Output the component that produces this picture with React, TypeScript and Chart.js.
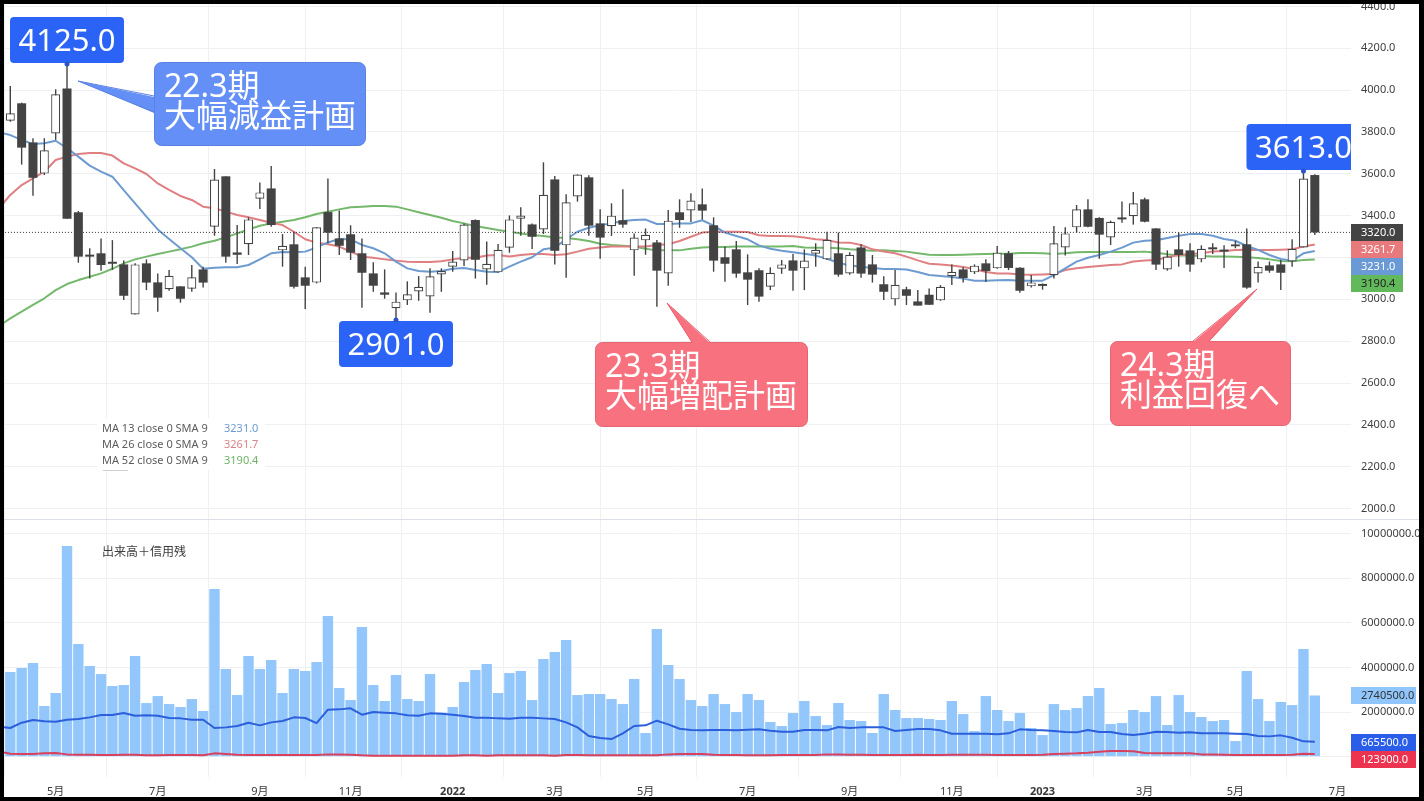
import React, { useEffect, useRef } from "react";
import { Chart, registerables } from "chart.js";

Chart.register(...registerables);

// ---------- data (weekly bars, index 0 = first visible week) ----------
const opens = [
  3854,3937,3750,3601,3793,4008,3416,3212,3220,3178,
  3167,2928,3172,3081,3048,3062,3051,3143,3347,3588,
  3224,3263,3481,3530,3234,3263,3105,3080,3417,3291,
  3311,3220,3124,3033,2957,2995,3038,3014,3119,3156,
  3186,3379,3143,3129,3247,3385,3358,3334,3573,3258,
  3492,3583,3363,3349,3378,3234,3282,3272,3124,3416,
  3425,3454,3354,3201,3239,3129,3139,3060,3146,3186,
  3148,3218,3191,3220,3124,3248,3167,3072,3000,3048,
  2990,3022,2995,3110,3143,3129,3172,3148,3220,3151,
  3062,3073,3115,3248,3344,3430,3389,3296,3387,3397,
  3478,3339,3143,3239,3234,3191,3244,3231,3252,3263,
  3124,3162,3167,3181,3248,3594,
];
const highs = [
  4020,3940,3770,3770,4004,4125,3422,3244,3291,3283,
  3185,3172,3191,3124,3140,3063,3164,3156,3623,3588,
  3355,3392,3559,3637,3312,3323,3156,3345,3578,3424,
  3354,3291,3177,3143,3033,3086,3111,3148,3148,3231,
  3363,3382,3276,3264,3401,3440,3363,3655,3589,3502,
  3597,3593,3430,3459,3526,3315,3339,3283,3427,3478,
  3507,3530,3392,3252,3279,3215,3148,3153,3188,3217,
  3239,3268,3323,3319,3225,3263,3212,3110,3140,3060,
  3044,3052,3068,3167,3153,3167,3191,3255,3231,3153,
  3116,3076,3350,3344,3451,3478,3392,3376,3467,3513,
  3486,3340,3234,3320,3268,3258,3268,3258,3280,3339,
  3181,3181,3188,3287,3613,3598,
];
const lows = [
  3849,3644,3495,3594,3762,3385,3175,3099,3137,3140,
  2997,2928,3044,2941,3041,2984,3036,3056,3304,3175,
  3169,3212,3432,3347,3156,3052,2954,3076,3268,3212,
  3188,2960,3036,3003,2901,2973,2993,2936,3036,3132,
  3159,3099,3070,3127,3223,3304,3240,3312,3166,3103,
  3467,3304,3194,3303,3342,3113,3213,2965,3065,3342,
  3370,3382,3132,3084,3103,2973,2989,3044,3122,3041,
  3044,3156,3188,3108,3118,3103,3080,2997,2970,2973,
  2970,2974,2993,3068,3080,3121,3083,3146,3140,3032,
  3056,3046,3100,3209,3320,3344,3194,3260,3366,3357,
  3368,3140,3137,3156,3132,3177,3217,3150,3244,3051,
  3080,3127,3044,3156,3248,3307,
];
const closes = [
  3889,3725,3581,3712,3980,3385,3204,3204,3164,3170,
  3017,3167,3080,3008,3113,3003,3105,3080,3573,3204,
  3213,3382,3511,3355,3256,3060,3065,3344,3319,3256,
  3223,3127,3065,3022,2989,3024,3060,3110,3135,3181,
  3358,3189,3170,3237,3382,3401,3299,3500,3232,3464,
  3597,3352,3295,3400,3357,3295,3309,3137,3376,3379,
  3472,3424,3185,3170,3123,3094,3013,3127,3167,3137,
  3185,3237,3285,3118,3213,3123,3118,3036,3070,3017,
  2970,2974,3060,3132,3102,3161,3135,3223,3150,3041,
  3081,3064,3268,3315,3430,3347,3309,3371,3382,3459,
  3371,3166,3205,3212,3166,3242,3239,3228,3263,3056,
  3156,3137,3127,3242,3577,3320,
];

// moving averages: first value belongs to the week before index 0 (index -1)
const ma13 = [
  3798,
  3785,3762,3742,3746,3758,3722,3682,3639,3610,3586,
  3522,3459,3395,3334,3288,3244,3201,3146,3151,3153,
  3153,3164,3191,3220,3226,3225,3228,3248,3272,3288,
  3287,3260,3244,3220,3180,3148,3135,3132,3135,3146,
  3150,3140,3132,3131,3156,3180,3201,3239,3247,3287,
  3323,3342,3354,3363,3374,3379,3381,3360,3360,3363,
  3363,3378,3352,3319,3303,3287,3258,3242,3232,3225,
  3218,3209,3194,3175,3162,3156,3150,3145,3145,3143,
  3131,3116,3111,3107,3099,3089,3089,3091,3092,3089,
  3089,3089,3116,3148,3180,3199,3212,3228,3247,3271,
  3280,3282,3293,3304,3312,3312,3304,3288,3280,3255,
  3236,3212,3193,3185,3220,3231,
];
const ma26 = [
  3435,
  3499,3546,3578,3610,3666,3682,3695,3699,3699,3687,
  3650,3626,3599,3554,3523,3494,3475,3443,3435,3419,
  3403,3392,3379,3366,3355,3323,3287,3271,3263,3252,
  3228,3204,3199,3191,3185,3180,3178,3178,3182,3191,
  3199,3199,3209,3212,3205,3212,3217,3217,3212,3215,
  3228,3242,3248,3252,3252,3252,3252,3260,3263,3279,
  3299,3319,3323,3323,3323,3322,3306,3303,3303,3301,
  3295,3287,3283,3272,3271,3260,3239,3229,3220,3204,
  3186,3170,3167,3162,3154,3145,3131,3124,3124,3119,
  3118,3119,3121,3140,3148,3154,3159,3164,3167,3181,
  3186,3188,3201,3212,3217,3220,3229,3231,3236,3237,
  3236,3236,3237,3239,3252,3261.7,
];
const ma52 = [
  2872,
  2909,2941,2973,3005,3044,3073,3092,3108,3124,3146,
  3172,3191,3204,3217,3228,3239,3252,3268,3280,3296,
  3315,3334,3352,3363,3371,3379,3392,3408,3419,3430,
  3440,3443,3446,3446,3443,3430,3416,3403,3390,3374,
  3363,3350,3341,3331,3323,3315,3307,3303,3296,3293,
  3287,3279,3266,3260,3256,3252,3242,3234,3234,3234,
  3242,3248,3250,3250,3252,3252,3252,3252,3253,3255,
  3248,3247,3247,3244,3239,3236,3232,3234,3231,3228,
  3220,3213,3212,3212,3213,3215,3217,3218,3218,3221,
  3221,3220,3217,3220,3225,3226,3226,3226,3226,3226,
  3228,3223,3215,3209,3209,3207,3205,3205,3204,3201,
  3197,3191,3183,3182,3188,3190.4,
];

const volume = [
  3791000,3970000,4194000,2269000,2851000,9433000,5045000,4060000,3701000,3164000,
  3209000,4507000,2403000,2716000,2358000,2224000,2582000,2045000,7507000,3925000,
  2761000,4507000,3925000,4328000,2851000,3925000,3836000,4239000,6298000,3075000,
  2537000,5806000,3209000,2493000,3657000,2582000,2493000,3701000,1970000,2224000,
  3343000,3881000,4149000,2851000,3746000,3836000,2537000,4373000,4686000,5224000,
  2761000,2806000,2806000,2582000,2358000,3478000,1060000,5716000,4104000,3478000,
  2537000,2269000,2806000,2358000,2000000,2806000,2537000,1552000,1373000,1955000,
  2493000,1821000,1418000,2403000,1642000,1597000,1060000,2806000,2090000,1731000,
  1731000,1687000,1642000,2493000,1910000,1149000,2716000,2090000,1597000,1955000,
  1284000,970000,2358000,2090000,2179000,2716000,3075000,1463000,1507000,2090000,
  2000000,2716000,1418000,2761000,2000000,1776000,1597000,1642000,701000,3836000,
  2582000,1597000,2448000,2313000,4821000,2740500,
];
// first value belongs to index -1
const marginBuy = [
  1343000,
  1284000,1522000,1642000,1582000,1567000,1657000,1687000,1761000,1866000,1866000,
  1955000,1836000,1851000,1836000,1731000,1716000,1657000,1657000,1284000,1313000,
  1373000,1522000,1403000,1537000,1597000,1761000,1731000,1507000,2104000,2119000,
  2164000,1881000,2000000,1970000,1940000,1851000,1836000,1940000,1925000,1881000,
  1821000,1746000,1746000,1716000,1701000,1746000,1746000,1716000,1687000,1537000,
  1313000,925000,836000,791000,1045000,1373000,1403000,1612000,1448000,1254000,
  1194000,1179000,1194000,1194000,1179000,1209000,1224000,1164000,1119000,1119000,
  1194000,1194000,1179000,1328000,1284000,1313000,1313000,1313000,1149000,1194000,
  1239000,1239000,1179000,1030000,1030000,1030000,1030000,1000000,1045000,1224000,
  1194000,1179000,1149000,1104000,1090000,1194000,1104000,1104000,1015000,970000,
  1030000,1119000,1104000,1075000,1090000,1045000,1045000,1045000,1030000,1015000,
  925000,910000,955000,851000,687000,665500,
];
const marginSell = [
  224000,
  134000,119000,119000,149000,164000,104000,90000,90000,75000,75000,
  90000,90000,60000,60000,75000,75000,75000,60000,149000,119000,
  90000,75000,75000,75000,75000,75000,75000,75000,104000,104000,
  90000,60000,45000,45000,45000,45000,45000,45000,45000,45000,
  60000,60000,45000,60000,60000,60000,60000,60000,45000,75000,
  75000,60000,60000,60000,60000,60000,60000,60000,104000,119000,
  119000,119000,90000,75000,75000,60000,60000,60000,75000,75000,
  75000,75000,104000,104000,90000,90000,75000,75000,75000,75000,
  90000,75000,75000,90000,90000,90000,90000,75000,75000,75000,
  75000,90000,119000,134000,149000,179000,224000,254000,254000,239000,
  164000,149000,149000,149000,149000,104000,104000,90000,75000,75000,
  75000,75000,75000,90000,134000,123900,
];

const monthTickIndex = [4, 13, 22, 30, 39, 48, 56, 65, 74, 83, 91, 100, 108, 117];
const monthTickLabels = ["5月", "7月", "9月", "11月", "2022", "3月", "5月", "7月", "9月", "11月", "2023", "3月", "5月", "7月"];
const priceTicks = [2000, 2200, 2400, 2600, 2800, 3000, 3200, 3400, 3600, 3800, 4000, 4200, 4400];
const volumeTicks = [0, 2000000, 4000000, 6000000, 8000000, 10000000];

const lastClose = 3320;
const lastMa13 = "3231.0";
const lastMa26 = "3261.7";
const lastMa52 = "3190.4";

const highLowMarks = [
  { index: 5, value: 4125, above: true },
  { index: 34, value: 2901, above: false },
  { index: 114, value: 3613, above: true },
];

const callouts = [
  { lines: ["22.3期", "大幅減益計画"], box: [154, 62, 212, 84], tip: [78, 81], base: [[154, 96], [154, 112]], fill: "#648ff6", stroke: "#5b82e2" },
  { lines: ["23.3期", "大幅増配計画"], box: [595, 342, 213, 85], tip: [667, 303], base: [[692, 342], [710, 342]], fill: "#f7727e", stroke: "#e66374" },
  { lines: ["24.3期", "利益回復へ"], box: [1110, 341, 181, 85], tip: [1257, 289], base: [[1193, 341], [1209, 341]], fill: "#f7727e", stroke: "#e66374" },
];

const legendRows = [
  { label: "MA 13 close 0 SMA 9", value: lastMa13, color: "#6d9bd0", y: 432 },
  { label: "MA 26 close 0 SMA 9", value: lastMa26, color: "#d98487", y: 448 },
  { label: "MA 52 close 0 SMA 9", value: lastMa52, color: "#6fb568", y: 464 },
];

const axisBadges = [
  { text: lastClose.toFixed(1), y: 232.5, w: 52, bg: "#434343", fg: "#ffffff" },
  { text: lastMa26, y: 249.5, w: 52, bg: "#e8797c", fg: "#ffffff" },
  { text: lastMa13, y: 266.5, w: 52, bg: "#6a9ad6", fg: "#ffffff" },
  { text: lastMa52, y: 283.5, w: 52, bg: "#62b95c", fg: "#222222" },
  { text: "2740500.0", y: 695.5, w: 65, bg: "#90c6fb", fg: "#333333" },
  { text: "665500.0", y: 742.5, w: 65, bg: "#2a5ee8", fg: "#ffffff" },
  { text: "123900.0", y: 759.5, w: 65, bg: "#ec3350", fg: "#ffffff" },
];

// ---------- layout ----------
const FONT = '"Noto Sans", "Noto Sans CJK JP", sans-serif';
const OFF = 4; // canvas offset inside the black frame
const CANDLE = "#434343";
const GRID = "#eef0f4";

const xy = (arr: number[], start: number) => arr.map((y, i) => ({ x: i + start, y }));
const noPad = (s: any) => {
  s.paddingTop = 0;
  s.paddingBottom = 0;
  s.paddingLeft = 0;
  s.paddingRight = 0;
};

function overlayPlugin() {
  return {
    id: "overlay",
    afterDatasetsDraw(chart: any) {
      const { ctx, chartArea, scales } = chart;
      const P = (v: number) => v - OFF;
      ctx.save();

      // pane separator
      ctx.strokeStyle = "#dcdfe6";
      ctx.lineWidth = 1;
      ctx.beginPath();
      ctx.moveTo(chartArea.left, P(519.5));
      ctx.lineTo(chart.width, P(519.5));
      ctx.stroke();

      // legend block
      ctx.fillStyle = "#ffffff";
      ctx.fillRect(P(97), P(418), 168, 52);
      ctx.textBaseline = "alphabetic";
      ctx.textAlign = "left";
      ctx.font = `11px ${FONT}`;
      for (const r of legendRows) {
        ctx.fillStyle = "#5c5c5c";
        ctx.fillText(r.label, P(102), P(r.y));
        ctx.fillStyle = r.color;
        ctx.fillText(r.value, P(224), P(r.y));
      }
      ctx.strokeStyle = "#d0d0d0";
      ctx.beginPath();
      ctx.moveTo(P(103), P(470.5));
      ctx.lineTo(P(128), P(470.5));
      ctx.stroke();
      ctx.fillStyle = "#3c3c3c";
      ctx.font = `12px ${FONT}`;
      ctx.fillText("出来高＋信用残", P(102), P(556));

      // call-outs
      for (const c of callouts) {
        const [x, y, w, h] = c.box;
        ctx.beginPath();
        ctx.roundRect(P(x) + 0.5, P(y) + 0.5, w - 1, h - 1, 7);
        ctx.fillStyle = c.fill;
        ctx.fill();
        ctx.strokeStyle = c.stroke;
        ctx.stroke();
        ctx.beginPath();
        ctx.moveTo(P(c.base[0][0]), P(c.base[0][1]) + 1);
        ctx.lineTo(P(c.tip[0]), P(c.tip[1]));
        ctx.lineTo(P(c.base[1][0]), P(c.base[1][1]) + 1);
        ctx.closePath();
        ctx.fillStyle = c.fill;
        ctx.fill();
        ctx.beginPath();
        ctx.moveTo(P(c.base[0][0]), P(c.base[0][1]));
        ctx.lineTo(P(c.tip[0]), P(c.tip[1]));
        ctx.lineTo(P(c.base[1][0]), P(c.base[1][1]));
        ctx.stroke();
        ctx.fillStyle = "#ffffff";
        ctx.font = `32px ${FONT}`;
        ctx.textAlign = "left";
        ctx.fillText(c.lines[0], P(x + 10), P(y + 35));
        ctx.fillText(c.lines[1], P(x + 10), P(y + 65));
      }

      // high / low badges, anchored on the bar they describe
      ctx.save();
      ctx.beginPath();
      ctx.rect(chartArea.left, chartArea.top, chartArea.right - chartArea.left, chartArea.bottom - chartArea.top);
      ctx.clip();
      for (const m of highLowMarks) {
        const cx = scales.x.getPixelForValue(m.index);
        const cy = scales.yPrice.getPixelForValue(m.value);
        const top = m.above ? cy - 47 : cy + 1;
        ctx.beginPath();
        ctx.roundRect(cx - 57, top, 114, 46, 4);
        ctx.fillStyle = "#2a63f5";
        ctx.fill();
        ctx.beginPath();
        ctx.arc(cx, cy, 2.5, 0, Math.PI * 2);
        ctx.fillStyle = "#2a55c8";
        ctx.fill();
        ctx.fillStyle = "#ffffff";
        ctx.font = `31px ${FONT}`;
        ctx.textAlign = "center";
        ctx.fillText(m.value.toFixed(1), cx, top + 34);
      }
      ctx.restore();

      // last-value badges on the axes
      ctx.font = `11px ${FONT}`;
      ctx.textAlign = "left";
      ctx.textBaseline = "middle";
      for (const b of axisBadges) {
        ctx.fillStyle = b.bg;
        ctx.fillRect(chartArea.right, P(b.y - 8.5), b.w, 17);
        ctx.fillStyle = b.fg;
        ctx.fillText(b.text, chartArea.right + 10, P(b.y));
      }
      ctx.restore();
    },
  };
}

export default function App() {
  const ref = useRef<HTMLCanvasElement | null>(null);

  useEffect(() => {
    if (!ref.current) return;
    const candleIdx = opens.map((_, i) => i);
    const upIdx = candleIdx.filter((i) => closes[i] >= opens[i]);
    const downIdx = candleIdx.filter((i) => closes[i] < opens[i]);
    const bar = { grouped: false, inflateAmount: 0, borderSkipped: false } as const;
    const lineBase = { type: "line" as const, pointRadius: 0, tension: 0, borderJoinStyle: "round" as const };

    const chart = new Chart(ref.current, {
      type: "bar",
      data: {
        datasets: [
          // volume pane
          { ...bar, type: "bar", label: "出来高", yAxisID: "yVol", order: 30, backgroundColor: "#93c7fb", barThickness: 10.4, data: xy(volume, 0) },
          { ...lineBase, label: "信用買残", yAxisID: "yVol", order: 20, borderColor: "#2c5fdb", borderWidth: 2, data: xy(marginBuy, -1) },
          { ...lineBase, label: "信用売残", yAxisID: "yVol", order: 19, borderColor: "#d8405c", borderWidth: 2, data: xy(marginSell, -1) },
          // moving averages
          { ...lineBase, label: "MA 52", yAxisID: "yPrice", order: 12, borderColor: "#74b86c", borderWidth: 2, data: xy(ma52, -1) },
          { ...lineBase, label: "MA 26", yAxisID: "yPrice", order: 11, borderColor: "#e07f82", borderWidth: 2, data: xy(ma26, -1) },
          { ...lineBase, label: "MA 13", yAxisID: "yPrice", order: 10, borderColor: "#6d9bd0", borderWidth: 2, data: xy(ma13, -1) },
          // last close level
          { ...lineBase, label: "last", yAxisID: "yPrice", order: 9, borderColor: "#333333", borderWidth: 1, borderDash: [1, 2], data: [{ x: -1, y: lastClose }, { x: 119, y: lastClose }] },
          // candles
          { ...bar, type: "bar", label: "wick", yAxisID: "yPrice", order: 5, backgroundColor: CANDLE, barThickness: 1.4, data: candleIdx.map((i) => ({ x: i, y: [lows[i], highs[i]] })) },
          { ...bar, type: "bar", label: "up", yAxisID: "yPrice", order: 4, backgroundColor: "#ffffff", borderColor: CANDLE, borderWidth: 1.2, barThickness: 9, data: upIdx.map((i) => ({ x: i, y: [opens[i], closes[i]] })) },
          { ...bar, type: "bar", label: "down", yAxisID: "yPrice", order: 3, backgroundColor: CANDLE, barThickness: 9, minBarLength: 2, data: downIdx.map((i) => ({ x: i, y: [opens[i], closes[i]] })) },
        ] as any,
      },
      options: {
        animation: false,
        responsive: false,
        maintainAspectRatio: false,
        layout: { padding: 0 },
        plugins: { legend: { display: false }, tooltip: { enabled: false }, title: { display: false } },
        scales: {
          x: {
            type: "linear",
            position: "bottom",
            min: -0.555,
            max: 118.19,
            offset: false,
            border: { display: false },
            grid: { color: GRID, drawTicks: false, lineWidth: 1 },
            afterBuildTicks: (s: any) => {
              s.ticks = monthTickIndex.map((value) => ({ value }));
            },
            afterFit: (s: any) => {
              s.height = 20;
              noPad(s);
            },
            ticks: {
              autoSkip: false,
              maxRotation: 0,
              padding: 8,
              color: "#3a3a3a",
              font: (c: any) => {
                const lab = monthTickLabels[monthTickIndex.indexOf(c.tick?.value)] || "";
                return { family: FONT, size: 11, weight: /^20/.test(lab) ? "bold" : "normal" };
              },
              callback: (v: any) => monthTickLabels[monthTickIndex.indexOf(v)],
            },
          },
          yPrice: {
            type: "linear",
            position: "right",
            stack: "panes",
            stackWeight: 515,
            min: 1950,
            max: 4411.6,
            border: { display: false },
            grid: { color: GRID, drawTicks: false },
            afterBuildTicks: (s: any) => {
              s.ticks = priceTicks.map((value) => ({ value }));
            },
            afterFit: (s: any) => {
              s.width = 68;
              noPad(s);
            },
            ticks: {
              padding: 10,
              autoSkip: false,
              color: "#3f3f3f",
              font: { family: FONT, size: 11 },
              callback: (v: any) => Number(v).toFixed(1),
            },
          },
          yVol: {
            type: "linear",
            position: "right",
            stack: "panes",
            stackWeight: 258,
            min: -909000,
            max: 10643000,
            border: { display: false },
            grid: { color: GRID, drawTicks: false },
            afterBuildTicks: (s: any) => {
              s.ticks = volumeTicks.map((value) => ({ value }));
            },
            afterFit: (s: any) => {
              s.width = 68;
              noPad(s);
            },
            ticks: {
              padding: 10,
              autoSkip: false,
              color: "#3f3f3f",
              font: { family: FONT, size: 11 },
              callback: (v: any) => Number(v).toFixed(1),
            },
          },
        },
      } as any,
      plugins: [overlayPlugin()],
    });
    return () => chart.destroy();
  }, []);

  return (
    <div style={{ position: "fixed", left: 0, top: 0, width: 1424, height: 801, background: "#000", overflow: "hidden" }}>
      <div style={{ position: "absolute", left: OFF, top: OFF, width: 1415, height: 793, background: "#fff" }}>
        <canvas ref={ref} width={1415} height={793} />
      </div>
    </div>
  );
}
